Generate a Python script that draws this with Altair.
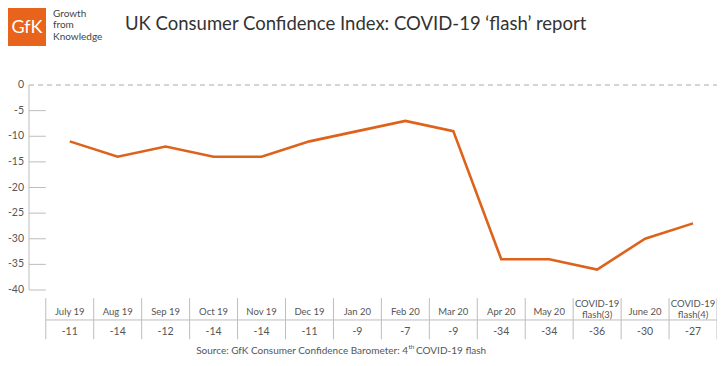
import altair as alt
import pandas as pd

# ---- data ----
months = ["July 19", "Aug 19", "Sep 19", "Oct 19", "Nov 19", "Dec 19", "Jan 20",
          "Feb 20", "Mar 20", "Apr 20", "May 20", "COVID-19\nflash(3)", "June 20",
          "COVID-19\nflash(4)"]
values = [-11, -14, -12, -14, -14, -11, -9, -7, -9, -34, -34, -36, -30, -27]
y_ticks = [0, -5, -10, -15, -20, -25, -30, -35, -40]

ORANGE = "#DD631B"
GRID = "#BDBDBD"
TXT = "#555555"
FONT = "Lato"

n = len(months)
df = pd.DataFrame({
    "pos": [i + 0.5 for i in range(n)],
    "label": months,
    "value": values,
    "vstr": [str(v) for v in values],
})

X_LEFT = -0.35
xscale = alt.Scale(domain=[X_LEFT, n], nice=False, zero=False)
yscale = alt.Scale(domain=[-40, 0], nice=False, zero=False)


def X(f):
    return alt.X(f, axis=None)


def Y(f):
    return alt.Y(f, axis=None)


line = alt.Chart(df).mark_line(color=ORANGE, strokeWidth=2.6).encode(
    x=alt.X("pos:Q", scale=xscale, axis=None),
    y=alt.Y("value:Q", scale=yscale, axis=None),
)

# y axis: line, short ticks, labels
axis_df = pd.DataFrame({"x": [X_LEFT], "y0": [0], "y1": [-40]})
axis_line = alt.Chart(axis_df).mark_rule(color=GRID, strokeWidth=1).encode(
    x=X("x:Q"), y=Y("y0:Q"), y2="y1:Q")

ticks_df = pd.DataFrame({"y": y_ticks, "x0": X_LEFT, "x1": 0,
                         "t": [str(v) for v in y_ticks]})
short_ticks = alt.Chart(ticks_df[ticks_df.y != 0]).mark_rule(
    color=GRID, strokeWidth=1).encode(x=X("x0:Q"), x2="x1:Q", y=Y("y:Q"))
ylabels = alt.Chart(ticks_df).mark_text(font=FONT, fontSize=10.5, color=TXT,
                                        align="right", baseline="middle").encode(
    x=alt.value(-5), y=Y("y:Q"), text="t:N")

zero_df = pd.DataFrame({"y": [0], "x0": [X_LEFT], "x1": [n]})
zero_line = alt.Chart(zero_df).mark_rule(color="#AAAAAA", strokeWidth=1,
                                         strokeDash=[5, 4]).encode(
    x=X("x0:Q"), x2="x1:Q", y=Y("y:Q"))

# table under the chart
sep_df = pd.DataFrame({"x": list(range(n + 1)), "y0": -41.6, "y1": -49.6})
seps = alt.Chart(sep_df).mark_rule(color=GRID, strokeWidth=1).encode(
    x=X("x:Q"), y=Y("y0:Q"), y2="y1:Q")

hl_df = pd.DataFrame({"x0": [0], "x1": [n], "y": [-45.85]})
hline = alt.Chart(hl_df).mark_rule(color=GRID, strokeWidth=1).encode(
    x=X("x0:Q"), x2="x1:Q", y=Y("y:Q"))

lab_df = df.assign(
    ly=[-42.8 if "\n" in m else -44.3 for m in months],
    vy=-48.1,
)
labels = alt.Chart(lab_df).mark_text(font=FONT, fontSize=9.5, color=TXT,
                                     lineBreak="\n", baseline="middle",
                                     lineHeight=10.5).encode(
    x=X("pos:Q"), y=Y("ly:Q"), text="label:N")
vals = alt.Chart(lab_df).mark_text(font=FONT, fontSize=10.5, color=TXT,
                                   baseline="middle").encode(
    x=X("pos:Q"), y=Y("vy:Q"), text="vstr:N")

# decorations (pixel positions relative to plot origin)
one = pd.DataFrame({"a": [0]})
logo = alt.Chart(one).mark_rect(color="#E8631C").encode(
    x=alt.value(-21), x2=alt.value(17), y=alt.value(-77), y2=alt.value(-39))


def txt(s, x, y, size, color, align="left"):
    return alt.Chart(one).mark_text(font=FONT, fontSize=size, color=color,
                                    align=align, baseline="middle").encode(
        x=alt.value(x), y=alt.value(y), text=alt.value(s))


logo_txt = txt("GfK", -2, -57, 18, "white", "center")
tag1 = txt("Growth", 24, -71, 10, "#444444")
tag2 = txt("from", 24, -60, 10, "#444444")
tag3 = txt("Knowledge", 24, -48, 10, "#444444")
title = txt("UK Consumer Confidence Index: COVID-19 \u2018flash\u2019 report",
            96, -61, 18.5, "#333333")
src1 = txt("Source: GfK Consumer Confidence Barometer: 4", 379, 266, 10, TXT, "right")
src2 = txt("th", 379.5, 262, 6.5, TXT)
src3 = txt("COVID-19 flash", 387, 266, 10, TXT)

chart = alt.layer(
    line, zero_line, short_ticks, axis_line, ylabels, seps, hline, labels, vals,
    logo, logo_txt, tag1, tag2, tag3, title, src1, src2, src3,
).properties(
    width=688, height=205, autosize="none",
    padding={"left": 21, "top": 77, "right": 0, "bottom": 68},
    background="white",
).configure_view(stroke=None)

chart.save("out.html", embed_options={"renderer": "svg", "actions": False})
